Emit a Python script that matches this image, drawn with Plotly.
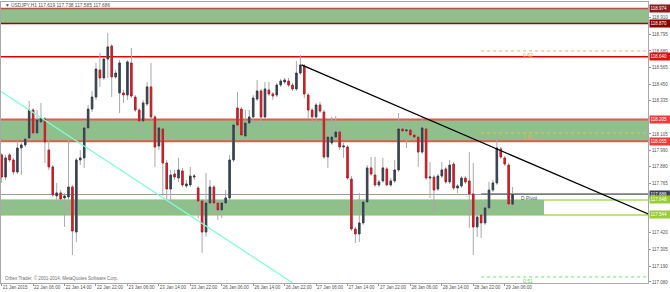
import plotly.graph_objects as go

# ---------------- data (USDJPY H1) ----------------
bar_index = list(range(131))
open_ = [117.960,117.807,117.960,117.925,117.842,118.008,118.029,118.077,118.271,118.112,
         118.188,118.209,117.994,117.877,117.676,117.697,117.662,117.669,117.738,117.426,
         117.925,117.939,118.147,118.278,118.361,118.548,118.493,118.624,118.714,118.500,
         118.389,118.389,118.375,118.597,118.361,118.271,118.195,118.313,118.431,118.223,
         118.022,118.140,117.904,117.724,117.828,117.800,117.849,117.745,117.752,117.807,
         117.731,117.641,117.426,117.627,117.738,117.627,117.579,117.627,117.662,117.925,
         118.285,118.278,118.091,118.181,118.223,118.347,118.403,118.223,118.410,118.382,
         118.375,118.444,118.465,118.472,118.444,118.417,118.527,118.576,118.375,118.271,
         118.223,118.306,118.257,117.946,118.043,118.084,118.119,118.015,118.015,117.793,
         117.447,117.413,117.489,117.634,117.870,117.821,117.752,117.780,117.863,117.752,
         117.780,117.856,118.140,118.126,118.133,118.098,118.084,117.980,118.140,117.800,
         117.807,117.724,117.814,117.863,117.773,117.897,117.731,117.745,117.800,117.780,
         117.690,117.461,117.544,117.489,117.593,117.717,117.766,118.001,117.939,117.890,
         117.619]
high = [117.973,117.960,117.973,117.939,118.057,118.043,118.091,118.334,118.285,118.271,
        118.320,118.223,118.063,117.890,117.766,117.717,117.697,118.063,117.752,117.939,
        117.994,118.202,118.306,118.403,118.597,118.666,118.638,118.804,118.728,118.548,
        118.617,118.410,118.617,118.701,118.375,118.285,118.341,118.465,118.597,118.237,
        118.167,118.154,117.925,117.856,117.856,117.939,117.870,117.787,117.877,117.828,
        117.745,117.655,117.835,117.787,117.752,117.648,117.648,117.717,117.960,118.188,
        118.396,118.292,118.271,118.271,118.375,118.479,118.417,118.465,118.465,118.396,
        118.458,118.486,118.493,118.493,118.458,118.611,118.652,118.590,118.389,118.285,
        118.320,118.327,118.271,118.098,118.223,118.230,118.154,118.043,118.029,117.814,
        117.461,117.697,117.648,117.890,117.946,117.946,117.787,117.939,117.877,117.800,
        117.925,118.250,118.188,118.202,118.188,118.112,118.098,118.223,118.154,117.911,
        117.821,117.828,117.911,117.877,117.925,117.911,117.759,117.814,117.814,117.980,
        117.904,117.600,117.558,117.634,117.773,117.787,118.091,118.015,117.953,117.904,
        117.738]
low = [117.766,117.787,117.911,117.821,117.828,117.821,118.015,118.063,118.091,118.098,
       118.133,117.904,117.856,117.669,117.627,117.634,117.461,117.579,117.267,117.357,
       117.890,117.870,118.133,118.257,118.341,118.431,118.479,118.493,118.361,118.486,
       118.250,118.320,118.341,118.354,118.257,118.133,118.133,118.299,118.202,117.877,
       117.994,117.676,117.648,117.558,117.787,117.773,117.738,117.731,117.738,117.787,
       117.523,117.281,117.392,117.613,117.558,117.510,117.523,117.600,117.648,117.911,
       118.112,118.084,118.077,118.167,118.147,118.334,118.147,118.209,118.368,118.341,
       118.361,118.431,118.451,118.431,118.403,118.403,118.514,118.354,118.209,118.154,
       118.133,118.250,117.932,117.870,118.029,118.063,117.994,117.939,117.787,117.433,
       117.350,117.357,117.475,117.620,117.814,117.738,117.738,117.766,117.745,117.738,
       117.766,117.842,118.112,118.008,118.084,118.070,117.877,117.967,117.787,117.662,
       117.558,117.710,117.800,117.759,117.759,117.717,117.697,117.731,117.759,117.454,
       117.267,117.392,117.385,117.475,117.579,117.703,117.752,117.932,117.883,117.606,
       117.585]
close = [117.807,117.939,117.925,117.842,118.008,118.029,118.070,118.271,118.112,118.202,
         118.216,118.050,117.877,117.683,117.697,117.655,117.676,117.738,117.433,117.925,
         117.939,118.147,118.278,118.361,118.555,118.493,118.624,118.708,118.500,118.527,
         118.597,118.375,118.604,118.368,118.271,118.195,118.320,118.431,118.223,118.015,
         118.147,117.904,117.724,117.821,117.807,117.856,117.752,117.759,117.814,117.814,
         117.641,117.426,117.627,117.738,117.627,117.579,117.627,117.662,117.925,118.167,
         118.167,118.098,118.181,118.223,118.354,118.403,118.223,118.417,118.382,118.368,
         118.444,118.472,118.479,118.444,118.417,118.527,118.583,118.382,118.271,118.223,
         118.306,118.264,117.946,118.084,118.084,118.119,118.015,118.022,117.800,117.447,
         117.413,117.489,117.634,117.870,117.828,117.752,117.773,117.870,117.752,117.780,
         117.856,118.140,118.126,118.133,118.098,118.084,117.980,118.147,117.800,117.807,
         117.717,117.814,117.856,117.773,117.890,117.731,117.745,117.800,117.773,117.690,
         117.461,117.530,117.489,117.593,117.717,117.766,118.008,117.946,117.897,117.620,
         117.686]

time_tick_index = [0, 8, 16, 24, 32, 40, 48, 56, 64, 72, 80, 88, 96, 104, 112, 120, 128]
time_tick_text = ["21 Jan 2015", "22 Jan 06:00", "22 Jan 14:00", "22 Jan 22:00",
                  "23 Jan 06:00", "23 Jan 14:00", "23 Jan 22:00", "26 Jan 06:00",
                  "26 Jan 14:00", "26 Jan 22:00", "27 Jan 06:00", "27 Jan 14:00",
                  "27 Jan 22:00", "28 Jan 06:00", "28 Jan 14:00", "28 Jan 22:00",
                  "29 Jan 06:00"]
price_ticks = [119.020, 118.910, 118.795, 118.680, 118.565, 118.450, 118.335, 118.105,
               117.990, 117.880, 117.765, 117.420, 117.305, 117.190, 117.080]

top_zone = [118.974, 118.870]
resistance = 118.640
mid_zone = [118.205, 118.055]
low_zone = [117.648, 117.544]
low_zone_end = 138
bid_price = 117.686
pivot_price = 117.690
fib_levels = [118.680, 118.112, 117.115]
fib_labels = ["0.62", "0.81", "0.51"]
fib_start = 122
fib_label_at = 134
pivot_label_at = 132
trend_x = [76.3, 164.5]
trend_y = [118.583, 117.551]
channel_x = [-0.42, 74.1]
channel_y = [118.403, 117.073]
box_labels = [(118.974, "#8e1b1b"), (118.870, "#8b0000"), (118.640, "#e01010"),
              (118.205, "#ee3b3b"), (118.055, "#ee3b3b"), (117.686, "#3c4450"),
              (117.648, "#9acd32"), (117.544, "#9acd32")]
header_text = "▼ USDJPY,H1 117.619 117.738 117.585 117.686"
copyright_text = "Orbex Trader, © 2001-2014, MetaQuotes Software Corp."

X_RANGE = [-0.17, 164.46]
Y_RANGE = [117.073, 119.019]
FONT = "Liberation Sans"
GREEN_FILL = "#8fbf8b"

fig = go.Figure()

# wicks (grey) – full high/low
fig.add_trace(go.Candlestick(
    x=bar_index, open=open_, high=high, low=low, close=close,
    increasing=dict(line=dict(color="#a9a9a9", width=1), fillcolor="#a9a9a9"),
    decreasing=dict(line=dict(color="#a9a9a9", width=1), fillcolor="#a9a9a9"),
    hoverinfo="skip", showlegend=False))
# bodies
body_hi = [max(o, c) for o, c in zip(open_, close)]
body_lo = [min(o, c) for o, c in zip(open_, close)]
fig.add_trace(go.Candlestick(
    x=bar_index, open=open_, high=body_hi, low=body_lo, close=close,
    increasing=dict(line=dict(color="#2f3845", width=0.8), fillcolor="#3d4756"),
    decreasing=dict(line=dict(color="#b8141c", width=0.8), fillcolor="#e2232b"),
    hoverinfo="skip", showlegend=False))

# trend line and channel line
fig.add_trace(go.Scatter(x=trend_x, y=trend_y, mode="lines",
                         line=dict(color="#000000", width=1.3), hoverinfo="skip", showlegend=False))
fig.add_trace(go.Scatter(x=channel_x, y=channel_y, mode="lines",
                         line=dict(color="#7fffd4", width=1.3), hoverinfo="skip", showlegend=False))

shapes = []
# zones
shapes.append(dict(type="rect", xref="paper", yref="y", x0=0, x1=1, y0=top_zone[1], y1=top_zone[0],
                   fillcolor=GREEN_FILL, line=dict(width=0), layer="below"))
shapes.append(dict(type="line", xref="paper", yref="y", x0=0, x1=1, y0=top_zone[0], y1=top_zone[0],
                   line=dict(color="#b5524a", width=1.5), layer="below"))
shapes.append(dict(type="line", xref="paper", yref="y", x0=0, x1=1, y0=top_zone[1], y1=top_zone[1],
                   line=dict(color="#a50000", width=1.5), layer="below"))
shapes.append(dict(type="line", xref="paper", yref="y", x0=0, x1=1, y0=resistance, y1=resistance,
                   line=dict(color="#dd0000", width=1.3), layer="below"))
shapes.append(dict(type="rect", xref="paper", yref="y", x0=0, x1=1, y0=mid_zone[1], y1=mid_zone[0],
                   fillcolor=GREEN_FILL, line=dict(width=0), layer="below"))
for lv in mid_zone:
    shapes.append(dict(type="line", xref="paper", yref="y", x0=0, x1=1, y0=lv, y1=lv,
                       line=dict(color="#e05a50", width=2), layer="below"))
shapes.append(dict(type="rect", xref="x", yref="y", x0=X_RANGE[0], x1=low_zone_end,
                   y0=low_zone[1], y1=low_zone[0], fillcolor=GREEN_FILL, line=dict(width=0), layer="below"))
for lv in low_zone:
    shapes.append(dict(type="line", xref="paper", yref="y", x0=0, x1=1, y0=lv, y1=lv,
                       line=dict(color="#a8d860", width=1.5), layer="below"))
shapes.append(dict(type="line", xref="paper", yref="y", x0=0, x1=1, y0=bid_price, y1=bid_price,
                   line=dict(color="#9a9a9a", width=1.2), layer="below"))
shapes.append(dict(type="line", xref="x", yref="y", x0=fib_start, x1=X_RANGE[1], y0=pivot_price, y1=pivot_price,
                   line=dict(color="#505860", width=1), layer="below"))
fib_colors = ["#f4b26a", "#e8c060", "#7ed87e"]
for lv, col in zip(fib_levels, fib_colors):
    shapes.append(dict(type="line", xref="x", yref="y", x0=fib_start, x1=X_RANGE[1], y0=lv, y1=lv,
                       line=dict(color=col, width=1, dash="dot"), layer="below"))

annotations = []
for lv, lab, col in zip(fib_levels, fib_labels, ["#f0a050", "#e0b050", "#66cc66"]):
    annotations.append(dict(x=fib_label_at, y=lv, xref="x", yref="y", text=lab, showarrow=False,
                            yanchor="top", font=dict(family=FONT, size=5, color=col), borderpad=0))
annotations.append(dict(x=pivot_label_at, y=pivot_price, xref="x", yref="y", text="D Pivot", showarrow=False,
                        xanchor="left", yanchor="top", font=dict(family=FONT, size=5, color="#505860"), borderpad=0))
for lv, col in box_labels:
    annotations.append(dict(x=1, y=lv, xref="paper", yref="y", text=f"{lv:.3f}", showarrow=False,
                            xanchor="left", yanchor="middle", xshift=1, bgcolor=col, width=20, height=6,
                            align="left", font=dict(family=FONT, size=4.5, color="#ffffff"), borderpad=0.5))
annotations.append(dict(x=0.004, y=1, xref="paper", yref="paper", text=header_text, showarrow=False,
                        xanchor="left", yanchor="top", font=dict(family=FONT, size=4.8, color="#505050"),
                        borderpad=0))
annotations.append(dict(x=0.004, y=0.005, xref="paper", yref="paper", text=copyright_text, showarrow=False,
                        xanchor="left", yanchor="bottom", font=dict(family=FONT, size=4.5, color="#707070"),
                        borderpad=0))

fig.update_layout(
    width=670, height=292,
    margin=dict(l=1, r=22, t=2, b=9),
    paper_bgcolor="#ffffff", plot_bgcolor="#ffffff",
    shapes=shapes, annotations=annotations,
    boxgap=0.45, showlegend=False,
    xaxis=dict(range=X_RANGE, rangeslider=dict(visible=False), tickmode="array",
               tickvals=time_tick_index, ticktext=time_tick_text, ticks="outside", ticklen=2,
               tickangle=0,
               tickcolor="#999999", ticklabelposition="outside right",
               tickfont=dict(family=FONT, size=4.5, color="#555555"),
               showgrid=False, zeroline=False, showline=True, linecolor="#a8a8a8", linewidth=1, mirror=True),
    yaxis=dict(range=Y_RANGE, side="right", tickmode="array", tickvals=price_ticks,
               ticktext=[f"{v:.3f}" for v in price_ticks], ticks="outside", ticklen=2, tickcolor="#999999",
               tickfont=dict(family=FONT, size=4.5, color="#555555"),
               showgrid=False, zeroline=False, showline=True, linecolor="#a8a8a8", linewidth=1, mirror=True),
)

fig.write_html("out.html")
